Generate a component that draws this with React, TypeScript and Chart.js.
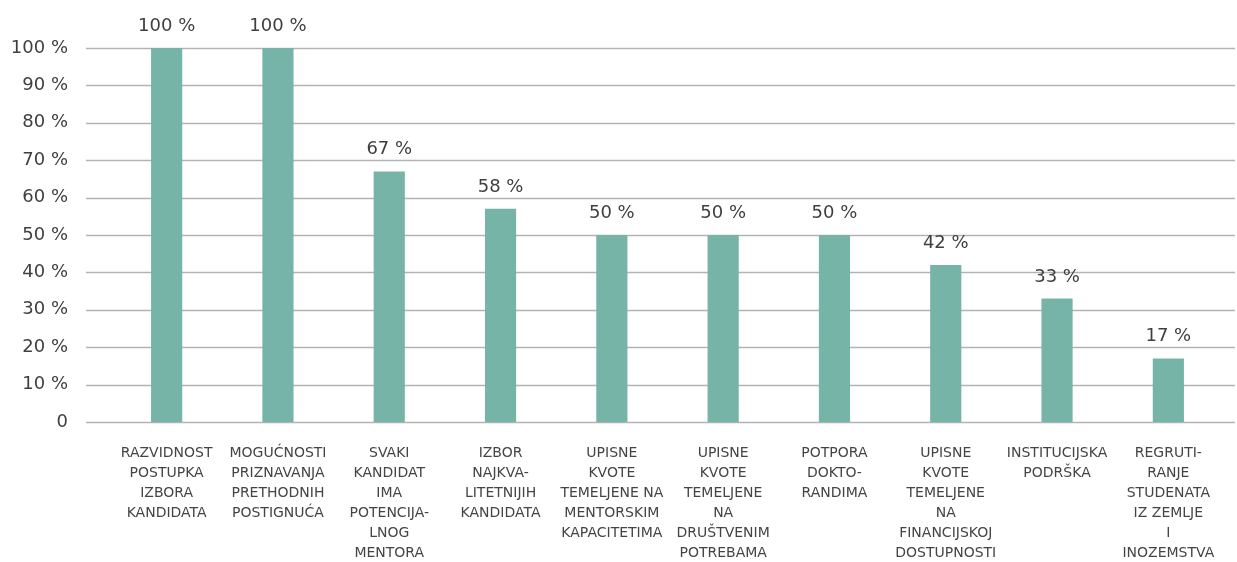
import React, { useEffect, useRef } from "react";
import { Chart, registerables } from "chart.js";

Chart.register(...registerables);

const categories: string[][] = [
  ["RAZVIDNOST", "POSTUPKA", "IZBORA", "KANDIDATA"],
  ["MOGUĆNOSTI", "PRIZNAVANJA", "PRETHODNIH", "POSTIGNUĆA"],
  ["SVAKI", "KANDIDAT", "IMA", "POTENCIJA-", "LNOG", "MENTORA"],
  ["IZBOR", "NAJKVA-", "LITETNIJIH", "KANDIDATA"],
  ["UPISNE", "KVOTE", "TEMELJENE NA", "MENTORSKIM", "KAPACITETIMA"],
  ["UPISNE", "KVOTE", "TEMELJENE", "NA", "DRUŠTVENIM", "POTREBAMA"],
  ["POTPORA", "DOKTO-", "RANDIMA"],
  ["UPISNE", "KVOTE", "TEMELJENE", "NA", "FINANCIJSKOJ", "DOSTUPNOSTI"],
  ["INSTITUCIJSKA", "PODRŠKA"],
  ["REGRUTI-", "RANJE", "STUDENATA", "IZ ZEMLJE", "I", "INOZEMSTVA"],
];

const values: number[] = [100, 100, 67, 57, 50, 50, 50, 42, 33, 17];
const valueLabels: string[] = ["100 %", "100 %", "67 %", "58 %", "50 %", "50 %", "50 %", "42 %", "33 %", "17 %"];

const BAR_COLOR = "#75b4a7";
const TEXT_COLOR = "#3f3f3f";
const GRID_COLOR = "#b3b3b3";
const FONT = "'DejaVu Sans', sans-serif";

const gridPlugin = {
  id: "wideGrid",
  beforeDatasetsDraw(chart: any) {
    const { ctx } = chart;
    const y = chart.scales.y;
    ctx.save();
    ctx.strokeStyle = GRID_COLOR;
    ctx.lineWidth = 1.5;
    y.ticks.forEach((t: any) => {
      const py = Math.round(y.getPixelForValue(t.value)) + 0.5;
      ctx.beginPath();
      ctx.moveTo(86, py);
      ctx.lineTo(chart.width - 2, py);
      ctx.stroke();
    });
    ctx.restore();
  },
};

const labelPlugin = {
  id: "valueLabels",
  afterDatasetsDraw(chart: any) {
    const { ctx } = chart;
    const meta = chart.getDatasetMeta(0);
    ctx.save();
    ctx.fillStyle = TEXT_COLOR;
    ctx.font = `18px ${FONT}`;
    ctx.textAlign = "center";
    ctx.textBaseline = "alphabetic";
    meta.data.forEach((bar: any, i: number) => {
      ctx.fillText(valueLabels[i], bar.x, bar.y - 17);
    });
    ctx.restore();
  },
};

export default function App() {
  const ref = useRef<HTMLCanvasElement>(null);
  useEffect(() => {
    if (!ref.current) return;
    const chart = new Chart(ref.current, {
      type: "bar",
      data: {
        labels: categories,
        datasets: [
          {
            data: values,
            backgroundColor: BAR_COLOR,
            barPercentage: 0.56,
            categoryPercentage: 0.5,
          },
        ],
      },
      options: {
        animation: false,
        responsive: false,
        maintainAspectRatio: false,
        layout: { padding: { top: 48, right: 13, left: 0, bottom: 0 } },
        plugins: { legend: { display: false }, tooltip: { enabled: false } },
        scales: {
          x: {
            grid: { display: false, drawTicks: false },
            border: { display: false },
            afterFit: (s: any) => {
              s.height = 140;
              s.paddingLeft = 0;
              s.paddingRight = 0;
            },
            ticks: {
              autoSkip: false,
              maxRotation: 0,
              minRotation: 0,
              padding: 21,
              color: "#444444",
              font: { family: FONT, size: 14, lineHeight: "20px" } as any,
            },
          },
          y: {
            min: 0,
            max: 100,
            grid: { display: false, drawTicks: false },
            border: { display: false },
            afterFit: (s: any) => {
              s.width = 111;
              s.paddingTop = 0;
              s.paddingBottom = 0;
            },
            ticks: {
              stepSize: 10,
              padding: 43,
              color: TEXT_COLOR,
              font: { family: FONT, size: 18 },
              callback: (v: any) => (Number(v) === 0 ? "0" : `${v} %`),
            },
          },
        },
      },
      plugins: [gridPlugin, labelPlugin],
    });
    return () => chart.destroy();
  }, []);
  return (
    <div style={{ position: "absolute", left: 0, top: 0, width: 1237, height: 562, background: "#fff" }}>
      <canvas ref={ref} width={1237} height={562} style={{ width: 1237, height: 562 }} />
    </div>
  );
}
